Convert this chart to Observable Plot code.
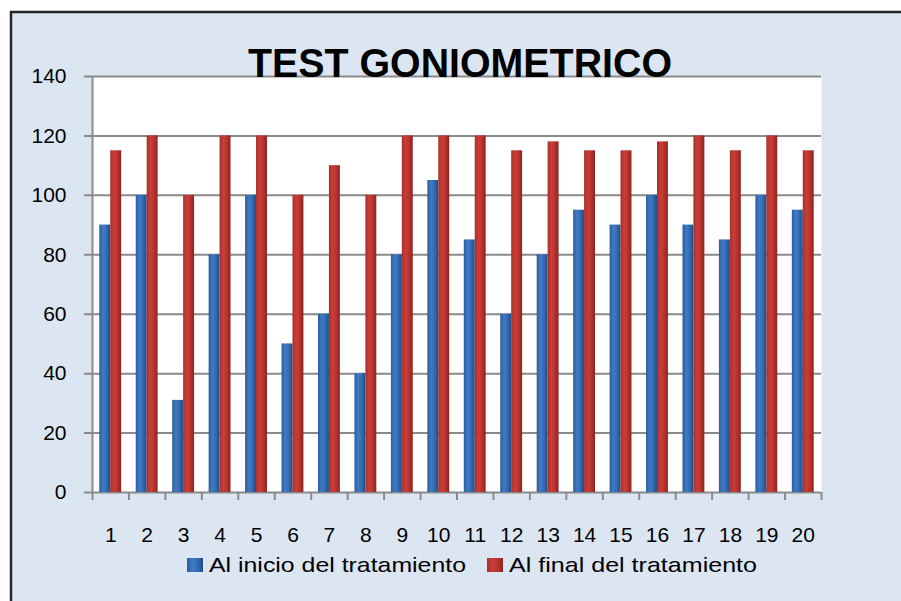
<!DOCTYPE html>
<html><head><meta charset="utf-8">
<script src="https://cdn.jsdelivr.net/npm/d3@7"></script>
<script src="https://cdn.jsdelivr.net/npm/@observablehq/plot@0.6"></script>
<style>body{margin:0;background:#fff}</style>
</head><body><div id="chart"></div>
<script>
const titulo = "TEST GONIOMETRICO";
const pacientes = ["1","2","3","4","5","6","7","8","9","10","11","12","13","14","15","16","17","18","19","20"];
const inicio = [90,100,31,80,100,50,60,40,80,105,85,60,80,95,90,100,90,85,100,95];
const final  = [115,120,100,120,120,100,110,100,120,120,120,115,118,115,115,118,120,115,120,115];
const series = ["Al inicio del tratamiento","Al final del tratamiento"];
const yTicks = [0,20,40,60,80,100,120,140];

const data = pacientes.map((p,i)=>({p, inicio: inicio[i], final: final[i]}));

const W = 901, H = 601, mL = 92, mR = 80, mT = 76, mB = 109;
const step = (W - mL - mR) / pacientes.length;
const bw = step * 0.6;
const gray = "#8a8a8a";

const chart = Plot.plot({
  width: W, height: H,
  marginLeft: mL, marginRight: mR, marginTop: mT, marginBottom: mB,
  style: {background: "white", fontFamily: "Liberation Sans", fontSize: "21px", color: "#000"},
  x: {type: "band", domain: pacientes, paddingInner: 0.4, paddingOuter: 0.2, round: false, label: null, axis: null},
  y: {domain: [0, 140], label: null, axis: null},
  marks: [
    Plot.frame({fill: "white", stroke: null}),
    Plot.ruleY(yTicks, {stroke: gray, strokeWidth: 2, insetLeft: -8}),
    Plot.barY(data, {x: "p", y: "inicio", fill: "url(#gradBlue)", insetRight: bw / 2}),
    Plot.barY(data, {x: "p", y: "final", fill: "url(#gradRed)", insetLeft: bw / 2}),
    Plot.ruleX([pacientes[0]], {dx: -step / 2, stroke: gray, strokeWidth: 2}),
    Plot.ruleX(pacientes, {dx: -step / 2, stroke: gray, strokeWidth: 2, insetTop: H - mT - mB, insetBottom: -8}),
    Plot.ruleX([pacientes[pacientes.length - 1]], {dx: step / 2, stroke: gray, strokeWidth: 2, insetTop: H - mT - mB, insetBottom: -8}),
    Plot.axisY({ticks: yTicks, tickSize: 0, tickPadding: 26, label: null, fontSize: 21}),
    Plot.axisX({tickSize: 0, tickPadding: 35, label: null, fontSize: 21})
  ]
});

const svg = d3.select(chart);
svg.insert("rect", ":first-child")
  .attr("x", 11).attr("y", 12).attr("width", W).attr("height", H)
  .attr("fill", "#dce6f2").attr("stroke", "#262626").attr("stroke-width", 2.5);
const defs = svg.insert("defs", ":first-child");
const gb = defs.append("linearGradient").attr("id", "gradBlue").attr("x1", "0").attr("x2", "1").attr("y1", "0").attr("y2", "0");
[["0%", "#2b5c9c"], ["35%", "#3f7bc6"], ["65%", "#336cb3"], ["100%", "#214b84"]].forEach(([o, c]) => gb.append("stop").attr("offset", o).attr("stop-color", c));
const gr = defs.append("linearGradient").attr("id", "gradRed").attr("x1", "0").attr("x2", "1").attr("y1", "0").attr("y2", "0");
[["0%", "#a82f2b"], ["35%", "#cc3d37"], ["65%", "#b8342f"], ["100%", "#8a2420"]].forEach(([o, c]) => gr.append("stop").attr("offset", o).attr("stop-color", c));

// Legend
const leg = [
  {label: series[0], fill: "url(#gradBlue)", sx: 187, tx: 209, len: 257},
  {label: series[1], fill: "url(#gradRed)", sx: 487, tx: 509, len: 248}
];
leg.forEach(l => {
  svg.append("rect").attr("x", l.sx).attr("y", 558).attr("width", 16).attr("height", 14).attr("fill", l.fill);
  svg.append("text").attr("x", l.tx).attr("y", 572).attr("text-anchor", "start")
    .attr("font-family", "Liberation Sans").attr("font-size", 21).attr("fill", "#000")
    .attr("textLength", l.len).attr("lengthAdjust", "spacingAndGlyphs").text(l.label);
});

// Title
svg.append("text").attr("x", 460).attr("y", 77).attr("text-anchor", "middle")
  .attr("font-family", "Liberation Sans").attr("font-weight", "bold").attr("font-size", 40)
  .attr("fill", "#000").attr("textLength", 424).attr("lengthAdjust", "spacingAndGlyphs").text(titulo);

document.getElementById("chart").appendChild(chart);
</script>
</body></html>
